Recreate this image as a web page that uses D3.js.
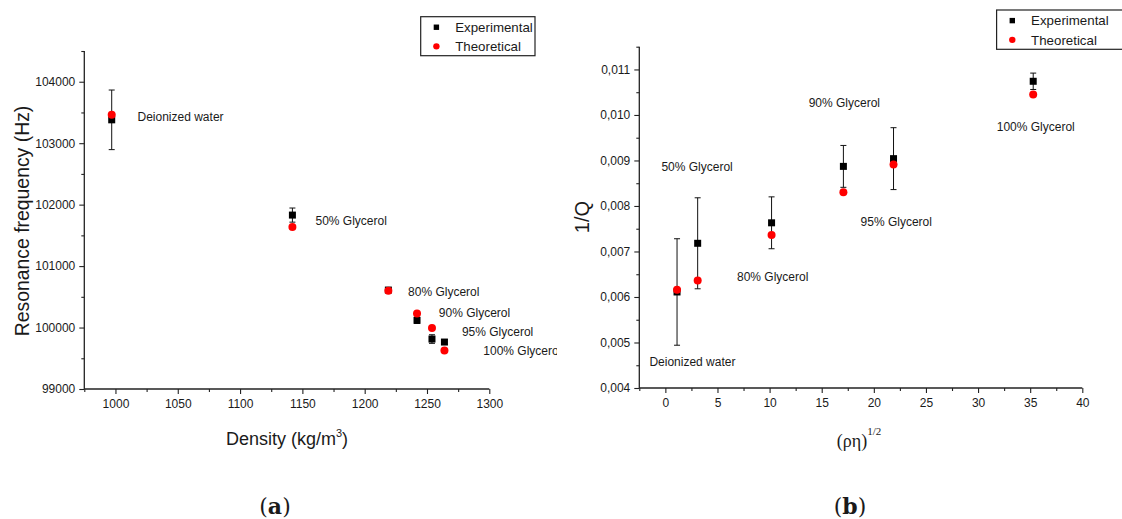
<!DOCTYPE html>
<html>
<head>
<meta charset="utf-8">
<script src="https://cdn.jsdelivr.net/npm/d3@7/dist/d3.min.js"></script>
<style>
  html, body { margin: 0; padding: 0; background: #fff; }
  svg { display: block; }
  text { font-family: "Liberation Sans", Arial, sans-serif; fill: #1a1a1a; }
</style>
</head>
<body>
<svg id="chart" width="1122" height="519"></svg>
<script>
// ---------- DATA ----------
const categories = ["Deionized water", "50% Glycerol", "80% Glycerol", "90% Glycerol", "95% Glycerol", "100% Glycerol"];
// panel (a)
const density = [997, 1142, 1219, 1242, 1254, 1264];
const freqExp = [103380, 101830, 100610, 100117, 99813, 99764];
const freqExpErr = [485, 115, 30, 50, 70, 40];
const freqTheo = [103462, 101635, 100600, 100227, 99992, 99628];
// panel (b)
const sqrtRhoEta = [1.12, 3.1, 10.19, 17.08, 21.89, 35.29];
const invQExp = [0.00611, 0.00718, 0.00763, 0.00887, 0.00904, 0.01074];
const invQErr = [0.00117, 0.00100, 0.00057, 0.00046, 0.00068, 0.00018];
const invQTheo = [0.00616, 0.00636, 0.00736, 0.00830, 0.00891, 0.01045];
// tick labels
const ticksAX = [1000, 1050, 1100, 1150, 1200, 1250, 1300];
const ticksAY = [99000, 100000, 101000, 102000, 103000, 104000];
const ticksBX = [0, 5, 10, 15, 20, 25, 30, 35, 40];
const ticksBY = [0.004, 0.005, 0.006, 0.007, 0.008, 0.009, 0.010, 0.011];
const seriesNames = ["Experimental", "Theoretical"];

// annotation anchors (data coordinates of each panel)
const labelAX = [1017.7, 1160.5, 1234.8, 1259.5, 1278, 1295.2];
const labelAY = [103424, 101732, 100579, 100243, 99938, 99628];
const labelBX = [-1.53, -0.38, 6.87, 13.75, 18.73, 31.79];
const labelBY = [0.004566, 0.008861, 0.006438, 0.010271, 0.007663, 0.009733];

// ---------- DRAW ----------
const svg = d3.select("#chart");
const defs = svg.append("defs");
defs.append("clipPath").attr("id", "clipA").append("rect")
  .attr("x", 0).attr("y", 0).attr("width", 557).attr("height", 519);

function panel(opt) {
  const g = svg.append("g");
  const x = d3.scaleLinear().domain(opt.xDomain).range(opt.xRange);
  const y = d3.scaleLinear().domain(opt.yDomain).range(opt.yRange);

  const xAxis = d3.axisBottom(x).tickValues(opt.xTicks).tickSize(5).tickPadding(5)
    .tickFormat(opt.xFormat || d3.format("d"));
  const yAxis = d3.axisLeft(y).tickValues(opt.yTicks).tickSize(5).tickPadding(4)
    .tickFormat(opt.yFormat || d3.format("d"));
  const xMinor = d3.axisBottom(x).tickValues(opt.xMinor).tickSize(3).tickFormat("");
  const yMinor = d3.axisLeft(y).tickValues(opt.yMinor).tickSize(3).tickFormat("");

  const gx = g.append("g").attr("transform", `translate(0,${opt.yRange[0]})`).call(xAxis);
  g.append("g").attr("transform", `translate(0,${opt.yRange[0]})`).call(xMinor)
    .call(s => s.select(".domain").remove());
  const gy = g.append("g").attr("transform", `translate(${opt.xRange[0]},0)`).call(yAxis);
  g.append("g").attr("transform", `translate(${opt.xRange[0]},0)`).call(yMinor)
    .call(s => s.select(".domain").remove());

  g.selectAll(".domain").attr("stroke", "#222").attr("stroke-width", 1.3);
  g.selectAll(".tick line").attr("stroke", "#222").attr("stroke-width", 1.1);
  g.selectAll(".tick text").attr("font-size", 12).attr("fill", "#1a1a1a")
    .attr("font-family", "Liberation Sans, Arial, sans-serif");
  gx.select(".domain").attr("d", `M${opt.xRange[0]},0H${opt.xRange[1]}`);
  gy.select(".domain").attr("d", `M0,${opt.yRange[0]}V${opt.yRange[1]}`);

  const data = opt.xs.map((v, i) => ({ x: v, e: opt.exp[i], err: opt.err[i], t: opt.theo[i], name: categories[i], lx: opt.lx[i], ly: opt.ly[i] }));

  // error bars
  const eb = g.append("g").attr("stroke", "#111").attr("stroke-width", 1);
  data.forEach(d => {
    const cx = x(d.x), y1 = y(d.e + d.err), y2 = y(d.e - d.err);
    eb.append("line").attr("x1", cx).attr("x2", cx).attr("y1", y1).attr("y2", y2);
    eb.append("line").attr("x1", cx - 3).attr("x2", cx + 3).attr("y1", y1).attr("y2", y1);
    eb.append("line").attr("x1", cx - 3).attr("x2", cx + 3).attr("y1", y2).attr("y2", y2);
  });
  g.append("g").selectAll("rect").data(data).join("rect")
    .attr("x", d => x(d.x) - 3.5).attr("y", d => y(d.e) - 3.5)
    .attr("width", 7).attr("height", 7).attr("fill", "#000");
  g.append("g").selectAll("circle").data(data).join("circle")
    .attr("cx", d => x(d.x)).attr("cy", d => y(d.t)).attr("r", 4).attr("fill", "#ff0000");

  const lg = g.append("g");
  if (opt.clip) lg.attr("clip-path", `url(#${opt.clip})`);
  lg.selectAll("text").data(data).join("text")
    .attr("x", d => x(d.lx)).attr("y", d => y(d.ly)).attr("dy", "0.35em")
    .attr("font-size", 12).text(d => d.name);

  const L = opt.legend;
  const leg = g.append("g");
  leg.append("rect").attr("x", L.x).attr("y", L.y).attr("width", L.w).attr("height", L.h)
    .attr("fill", "#fff").attr("stroke", "#222").attr("stroke-width", 1.2);
  const rowY = [L.y + L.h * 0.27, L.y + L.h * 0.76];
  leg.append("rect").attr("x", L.x + 13).attr("y", rowY[0] - 2.7).attr("width", 5.4).attr("height", 5.4).attr("fill", "#000");
  leg.append("circle").attr("cx", L.x + 15.7).attr("cy", rowY[1]).attr("r", 3.2).attr("fill", "#ff0000");
  seriesNames.forEach((n, i) => {
    leg.append("text").attr("x", L.x + 34.5).attr("y", rowY[i]).attr("dy", "0.36em")
      .attr("font-size", 13.3).text(n);
  });
  return { x, y, g };
}

const A = panel({
  xDomain: [975, 1300], xRange: [84.3, 489.3],
  yDomain: [99000, 104500], yRange: [389, 51],
  xTicks: ticksAX, yTicks: ticksAY,
  xMinor: d3.range(975, 1300, 50), yMinor: d3.range(99500, 104600, 1000),
  xs: density, exp: freqExp, err: freqExpErr, theo: freqTheo,
  lx: labelAX, ly: labelAY, clip: "clipA",
  legend: { x: 420.7, y: 16.7, w: 114.3, h: 39 }
});

const commaFmt = v => d3.format(".3f")(v).replace(".", ",");
const B = panel({
  xDomain: [-2.5, 40], xRange: [639.3, 1082.3],
  yDomain: [0.004, 0.0115], yRange: [388, 46.7],
  xTicks: ticksBX, yTicks: ticksBY, yFormat: commaFmt,
  xMinor: d3.range(-2.5, 40, 5), yMinor: d3.range(0.0045, 0.0116, 0.001),
  xs: sqrtRhoEta, exp: invQExp, err: invQErr, theo: invQTheo,
  lx: labelBX, ly: labelBY,
  legend: { x: 996.6, y: 10, w: 130, h: 39.3 }
});

svg.append("text").attr("transform", "translate(29,221) rotate(-90)")
  .attr("text-anchor", "middle").attr("font-size", 19.4).text("Resonance frequency (Hz)");
const xTitleA = svg.append("text").attr("x", 287).attr("y", 445).attr("text-anchor", "middle").attr("font-size", 18);
xTitleA.append("tspan").text("Density (kg/m");
xTitleA.append("tspan").attr("font-size", 11).attr("dy", -8).text("3");
xTitleA.append("tspan").attr("dy", 8).text(")");

svg.append("text").attr("transform", "translate(589,217) rotate(-90)")
  .attr("text-anchor", "middle").attr("font-size", 20).text("1/Q");
const xTitleB = svg.append("text").attr("x", 859).attr("y", 447).attr("text-anchor", "middle")
  .attr("font-size", 18).style("font-family", "Liberation Serif, Times New Roman, serif");
xTitleB.append("tspan").text("(ρη)");
xTitleB.append("tspan").attr("font-size", 11).attr("dy", -12).text("1/2");

function letter(cx, ch) {
  const t = svg.append("text").attr("x", cx).attr("y", 514).attr("text-anchor", "middle")
    .attr("font-size", 22).style("font-family", "DejaVu Serif, Liberation Serif, serif");
  t.append("tspan").text("(");
  t.append("tspan").attr("font-weight", "bold").text(ch);
  t.append("tspan").text(")");
}
letter(275, "a");
letter(850, "b");
</script>
</body>
</html>
